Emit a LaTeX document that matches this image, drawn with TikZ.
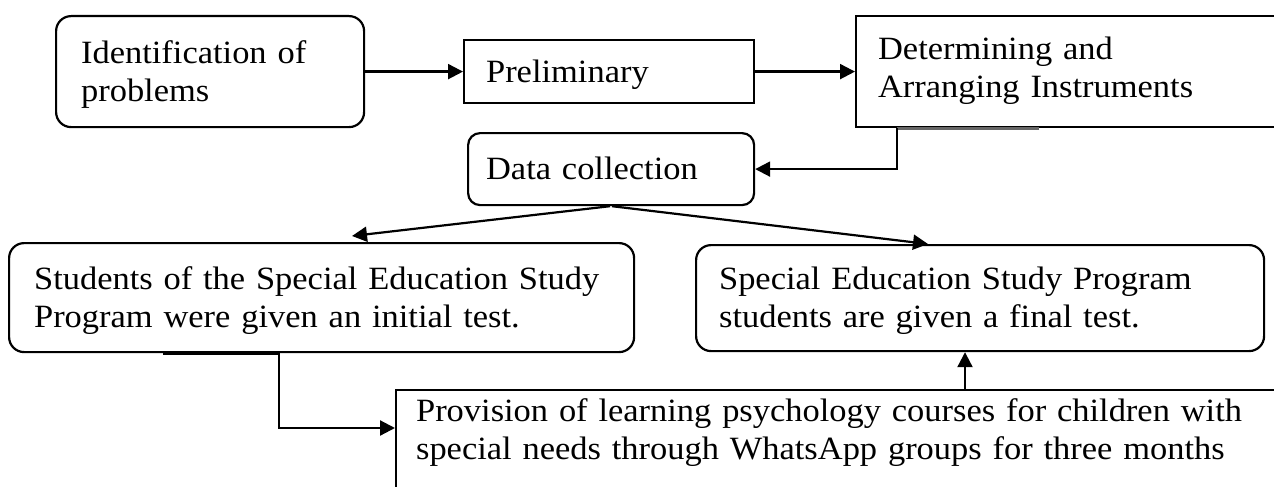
\documentclass[tikz,border=0pt]{standalone}
\usepackage{fontspec}
\setmainfont{Liberation Serif}[FakeStretch=1.06]
\usetikzlibrary{arrows.meta}
\tikzset{
  box/.style={draw, line width=2.2pt, anchor=north west, inner ysep=0pt,
    align=left, font=\fontsize{32.5}{38}\selectfont},
  rbox/.style={box, rounded corners=15pt},
  arr/.style={line width=2.2pt, -{Triangle[length=15pt,width=15pt]}},
  edgemark/.style={line width=3.2pt},
}
\begin{document}
\begin{tikzpicture}[x=1pt,y=-1pt]
\useasboundingbox (0,0) rectangle (1274,487);
\clip (0,0) rectangle (1274,487);

% top row
\node[rbox, inner xsep=25pt, text width=258pt, text height=47pt, text depth=64pt]
  (b1) at (55,15) {Identification of\\problems};
\node[box, inner xsep=22pt, text width=246pt, text height=42pt, text depth=21pt]
  (b2) at (463,39) {Preliminary};
\node[box, inner xsep=22pt, text width=376pt, text height=43pt, text depth=68pt]
  (b3) at (855,15) {Determining and\\Arranging Instruments};

% data collection
\node[rbox, rounded corners=12pt, inner xsep=18pt, text width=250pt, text height=46pt, text depth=26pt]
  (b4) at (467,132) {Data collection};

% tests
\node[rbox, inner xsep=25pt, text width=575pt, text height=46pt, text depth=63pt]
  (b5) at (8,242) {Students of the Special Education Study\\Program were given an initial test.};
\node[rbox, inner xsep=23pt, text width=522pt, text height=44pt, text depth=62pt]
  (b6) at (695,244) {Special Education Study Program\\students are given a final test.};

% treatment
\node[box, inner xsep=20pt, text width=860pt, text height=31pt, text depth=90pt]
  (b7) at (395,389) {Provision of learning psychology courses for children with\\special needs through WhatsApp groups for three months};

% heavier strokes along two box edges
\draw[edgemark] ([xshift=155pt]b5.south west) -- ([xshift=271pt]b5.south west);
\draw[edgemark, black!60] ([xshift=42pt]b3.south west) -- ([xshift=184pt]b3.south west);

% connectors
\draw[arr] (b1.east) -- (b1.east -| b2.west);
\draw[arr] (b2.east) -- (b2.east -| b3.west);
\draw[arr] ([xshift=42pt]b3.south west) |- (b4.east);
\draw[arr] ([xshift=143pt]b4.south west) -- ([xshift=344pt,yshift=6pt]b5.north west);
\draw[arr] ([xshift=145pt]b4.south west) -- ([xshift=233pt]b6.north west);
\draw[arr] ([xshift=271pt]b5.south west) |- ([yshift=-39pt]b7.north west);
\draw[arr] ([xshift=570pt]b7.north west) -- ([xshift=270pt]b6.south west);
\end{tikzpicture}
\end{document}
